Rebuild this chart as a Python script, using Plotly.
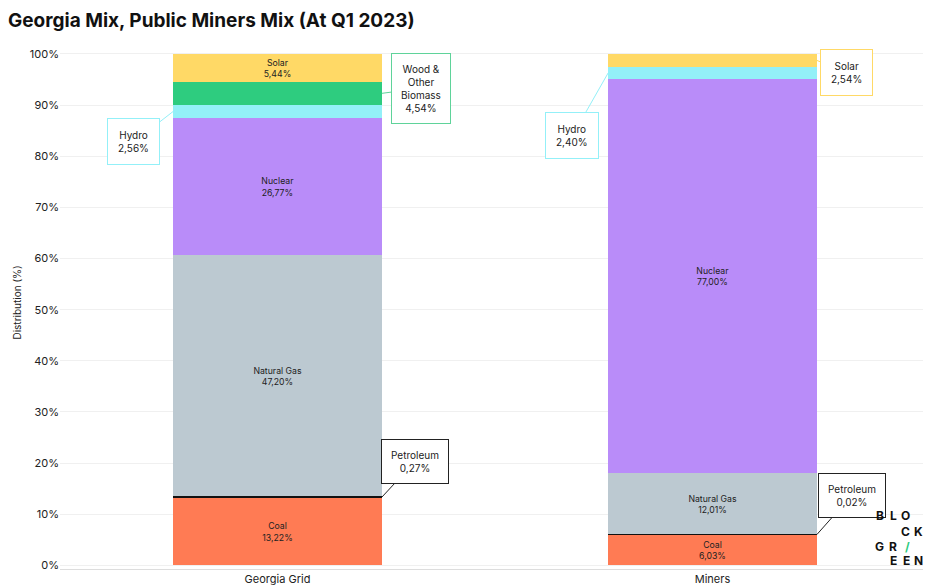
import plotly.graph_objects as go

categories = ["Georgia Grid", "Miners"]
sources = ["Coal", "Petroleum", "Natural Gas", "Nuclear", "Hydro", "Wood & Other Biomass", "Solar"]
georgia = [13.22, 0.27, 47.20, 26.77, 2.56, 4.54, 5.44]
miners = [6.03, 0.02, 12.01, 77.00, 2.40, 0.0, 2.54]
colors = ["#FF7B54", "#111111", "#BCC9D1", "#B98CF9", "#93F0F8", "#2ECC7F", "#FFD966"]
inside_g = [True, False, True, True, False, False, True]
inside_m = [True, False, True, True, False, False, False]

def fmt(v):
    return f"{v:.2f}".replace(".", ",") + "%"

fig = go.Figure()
for i, s in enumerate(sources):
    vals = [georgia[i], miners[i]]
    txt = [f"{s}<br>{fmt(georgia[i])}" if inside_g[i] else "",
           f"{s}<br>{fmt(miners[i])}" if inside_m[i] else ""]
    fig.add_bar(x=categories, y=vals, name=s, marker_color=colors[i], marker_line_width=0,
                text=txt, textposition="inside", insidetextanchor="middle",
                textfont=dict(size=10, color="#222"), hoverinfo="skip", width=0.48)

def cum(arr, idx):
    return sum(arr[:idx]) + arr[idx] / 2

callouts = [
    (f"Hydro<br>{fmt(georgia[4])}", -0.24, cum(georgia, 4), -0.33, 82.8, "#93F0F8", 10),
    (f"Wood &<br>Other<br>Biomass<br>{fmt(georgia[5])}", 0.24, cum(georgia, 5), 0.33, 93.3, "#5FD39A", 9),
    (f"Petroleum<br>{fmt(georgia[1])}", 0.24, cum(georgia, 1), 0.317, 20.4, "#222222", 9),
    (f"Hydro<br>{fmt(miners[4])}", 0.76, cum(miners, 4), 0.678, 84.0, "#93F0F8", 10),
    (f"Solar<br>{fmt(miners[6])}", 1.24, cum(miners, 6), 1.308, 96.3, "#FFD966", 10),
    (f"Petroleum<br>{fmt(miners[1])}", 1.24, cum(miners, 1), 1.32, 13.7, "#222222", 9),
]
for t, x, y, bx, by, c, pad in callouts:
    fig.add_annotation(x=x, y=y, ax=bx, ay=by, axref="x", ayref="y", xref="x", yref="y",
                       text=t, showarrow=True, arrowhead=0, arrowwidth=1, arrowcolor=c,
                       bordercolor=c, borderwidth=1, borderpad=pad, bgcolor="white",
                       font=dict(size=10, color="#222"))

logo = [("B", 0, 0), ("L", 1, 0), ("O", 2, 0), ("C", 2, 1), ("K", 3, 1),
        ("G", 0, 2), ("R", 1, 2), ("/", 2, 2), ("E", 1, 3), ("E", 2, 3), ("N", 3, 3)]
cols = [886, 899, 912, 925]
rows = [525, 541, 556, 570]
for ch, ci, ri in logo:
    fig.add_annotation(x=(cols[ci] - 60) / 870, y=(568.6 - rows[ri]) / 532.6,
                       xref="x domain", yref="y domain", text="<b>" + ch + "</b>",
                       showarrow=False,
                       font=dict(size=12, color="#2ECC7F" if ch == "/" else "#111", family="Inter"))

fig.update_layout(
    barmode="stack", width=923, height=578, showlegend=False,
    margin=dict(l=52, r=1, t=28, b=17.4),
    plot_bgcolor="white", paper_bgcolor="white",
    font=dict(family="Inter", color="#222"),
    title=dict(text="<b>Georgia Mix, Public Miners Mix (At Q1 2023)</b>", x=0.0, y=0.99,
               xanchor="left", yanchor="top", font=dict(size=19, color="#111")),
    uniformtext=dict(minsize=8, mode="show"),
)
fig.update_yaxes(range=[-0.7, 103.5], tickvals=list(range(0, 101, 10)),
                 ticktext=[f"{v}%" for v in range(0, 101, 10)], gridcolor="#f0f0f0",
                 zeroline=False, tickfont=dict(size=11), automargin=False,
                 title=dict(text="Distribution (%)", font=dict(size=10), standoff=6))
fig.update_xaxes(range=[-0.5, 1.5], tickfont=dict(size=11), automargin=False,
                 showline=True, linecolor="#ddd", ticklen=0)
fig.write_html("out.html")
